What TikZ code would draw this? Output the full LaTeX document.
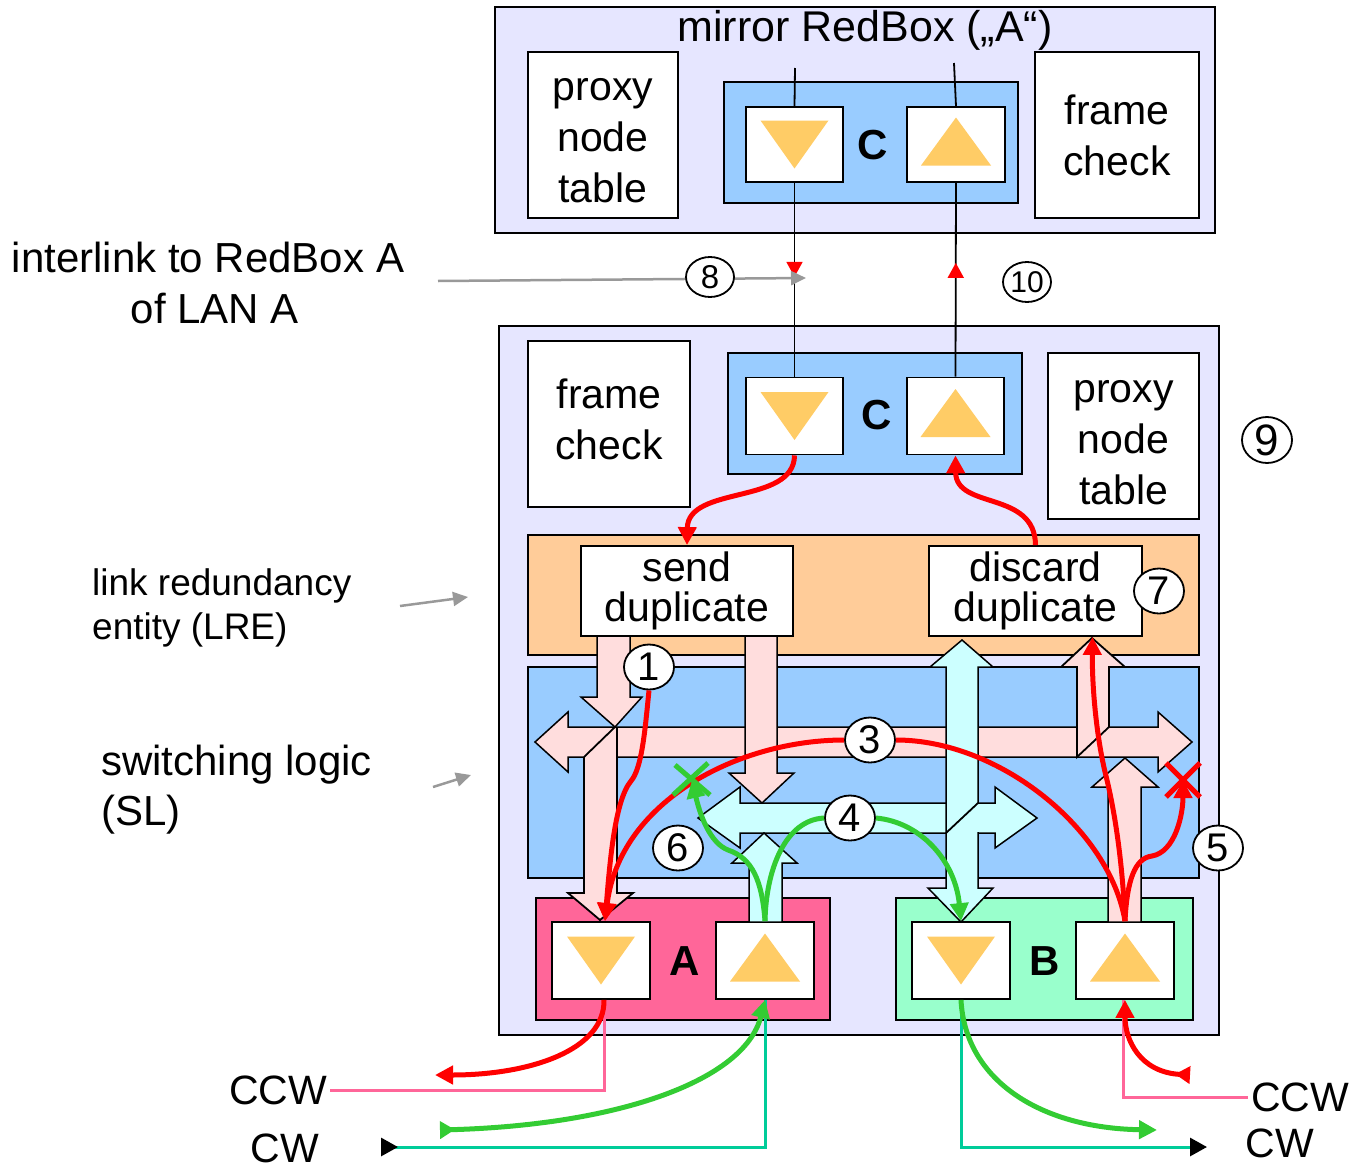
\documentclass[tikz,border=0pt]{standalone}
\usepackage{fontspec}
\setmainfont{Liberation Sans}
\usetikzlibrary{arrows.meta,shapes.geometric,decorations.markings}

\definecolor{lavbg}{HTML}{E6E6FF}
\definecolor{slblue}{HTML}{99CCFF}
\definecolor{lreor}{HTML}{FFCC99}
\definecolor{modA}{HTML}{FF6699}
\definecolor{modB}{HTML}{99FFCC}
\definecolor{trif}{HTML}{FFCC66}
\definecolor{paleP}{HTML}{FFDDDD}
\definecolor{paleC}{HTML}{CCFFFF}
\definecolor{grn}{HTML}{33CC33}
\definecolor{cwteal}{HTML}{00CC99}
\definecolor{ccwpink}{HTML}{FF6699}
\definecolor{gry}{HTML}{999999}

\tikzset{
  bx/.style={draw,line width=1.8pt,inner sep=0pt,align=center},
  wbox/.style={bx,fill=white},
  port/.style={wbox,minimum width=98,minimum height=77},
  bold/.style={font=\fontsize{42}{42}\selectfont\bfseries},
  num/.style={draw,ellipse,line width=1.8pt,fill=white,inner sep=0pt,
    minimum width=50,minimum height=45,font=\fontsize{40}{40}\selectfont},
  pale/.style={draw,line width=1.5pt,fill=#1},
  wire/.style={line width=1.8pt},
  redl/.style={draw=red,line width=5pt},
  grnl/.style={draw=grn,line width=5pt},
  gline/.style={draw=gry,line width=2.5pt,-{Triangle[length=15pt,width=14pt]}},
  ccwl/.style={draw=ccwpink,line width=3pt},
  cwl/.style={draw=cwteal,line width=3pt},
  >={Triangle[length=18pt,width=18pt]},
  rtail/.tip={Triangle[reversed,length=15pt,width=17pt]},
  btip/.tip={Triangle[color=black,length=17pt,width=18pt]},
  btail/.tip={Triangle[reversed,color=black,length=17pt,width=18pt]}
}

\newcommand{\dtri}[1]{\fill[trif] ([shift={(-34,-24)}]#1.center) -- ([shift={(34,-24)}]#1.center) -- ([shift={(0,24)}]#1.center) -- cycle;}
\newcommand{\utri}[1]{\fill[trif] ([shift={(0,-27)}]#1.center) -- ([shift={(35,21)}]#1.center) -- ([shift={(-35,21)}]#1.center) -- cycle;}

\begin{document}
\begin{tikzpicture}[x=1pt,y=-1pt,font=\fontsize{41}{51}\selectfont]
  \useasboundingbox (0,0) rectangle (1353,1170);

  % mirror RedBox
  \node[bx,fill=lavbg,minimum width=720,minimum height=226] (mirror) at (855,120) {};
  \node[font=\fontsize{43}{51}\selectfont] (mtitle) at (865,30) {mirror RedBox („A“)};
  \node[wbox,minimum width=150,minimum height=166,
    label={[align=center,yshift=-6pt]center:{proxy\\node\\table}}] (mproxy) at (603,135) {};
  \node[bx,fill=slblue,minimum width=294,minimum height=121] (mc) at (871,142.5) {};
  \node[port,minimum width=97,minimum height=75] (mdn) at (794.5,144.5) {};
  \node[port,minimum height=75] (mup) at (956,144.5) {};
  \node[bold] at (873,145) {C};
  \node[wbox,minimum width=164,minimum height=166] (mframe) at (1117,135) {frame\\check};
  \dtri{mdn} \utri{mup}

  % RedBox
  \node[bx,fill=lavbg,minimum width=720,minimum height=709] (redbox) at (859,680.5) {};
  \node[wbox,minimum width=162,minimum height=166,
    label={[align=center,yshift=5pt]center:{frame\\check}}] (frame) at (609,424) {};
  \node[bx,fill=slblue,minimum width=294,minimum height=121] (cc) at (875,413.5) {};
  \node[port,minimum width=97] (cdn) at (794.5,416) {};
  \node[port,minimum width=97] (cup) at (955.5,416) {};
  \node[bold] at (877,415) {C};
  \dtri{cdn} \utri{cup}
  \node[wbox,minimum width=151,minimum height=166,
    label={[align=center,yshift=-7pt]center:{proxy\\node\\table}}] (proxy) at (1123.5,436) {};
  \node[bx,fill=lreor,minimum width=671,minimum height=120] (lre) at (863.5,595) {};
  \node[wbox,minimum width=212,minimum height=90,font=\fontsize{41}{40}\selectfont] (send) at (687,591) {send\\duplicate};
  \node[wbox,minimum width=213,minimum height=90,font=\fontsize{41}{40}\selectfont] (discard) at (1035.5,591) {discard\\duplicate};
  \node[bx,fill=slblue,minimum width=671,minimum height=211] (sl) at (863.5,772.5) {};

  \node[bx,fill=modA,minimum width=294,minimum height=122] (porta) at (683,959) {};
  \node[bx,fill=modB,minimum width=297,minimum height=122] (portb) at (1044.5,959) {};
  \node[port] (adn) at (601,960.5) {};
  \node[port] (aup) at (765,960.5) {};
  \node[port] (bdn) at (961,960.5) {};
  \node[port] (bup) at (1125,960.5) {};
  \node[bold] at (685,961) {A};
  \node[bold] at (1045,961) {B};
  \dtri{adn} \utri{aup} \dtri{bdn} \utri{bup}

  % switching paths
  \draw[pale=paleP] (568,727) -- (1158,727) -- (1158,712) -- (1192,742) -- (1158,772) -- (1158,757)
    -- (568,757) -- (568,772) -- (535,742) -- (568,712) -- cycle;
  \draw[pale=paleP] (597,636) -- (597,697) -- (581,697) -- (615,727) -- (642,697) -- (630,697) -- (630,636) -- cycle;
  \fill[paleP] (584,750) -- (584,893) -- (568,893) -- (600,920) -- (633,893) -- (617,893) -- (617,750) -- cycle;
  \draw[wire] (584,757) -- (584,893) -- (568,893) -- (600,920) -- (633,893) -- (617,893) -- (617,727);
  \draw[wire] (584,757) -- (615,727);
  \fill[paleP] (1077,667) rectangle (1109,735) (1061,667) -- (1092,638) -- (1125,667) -- cycle;
  \draw[wire] (1109,727) -- (1109,667) -- (1125,667) -- (1092,638) -- (1061,667) -- (1077,667) -- (1077,757) -- (1109,727);
  \draw[pale=paleP] (1108,922) -- (1108,787) -- (1092,787) -- (1125,758) -- (1158,787) -- (1141,787) -- (1141,922) -- cycle;
  \draw[pale=paleC] (740,803) -- (995,803) -- (995,787) -- (1037,818) -- (995,848) -- (995,833)
    -- (740,833) -- (740,848) -- (698,818) -- (740,787) -- cycle;
  \draw[pale=paleP] (745,636) -- (745,773) -- (729,773) -- (762,803) -- (794,773) -- (777,773) -- (777,636) -- cycle;
  \draw[pale=paleC] (749,922) -- (749,863) -- (732,863) -- (764,833) -- (797,863) -- (782,863) -- (782,922) -- cycle;
  \draw[pale=paleC] (946,667) -- (930,667) -- (962,640) -- (993,667) -- (978,667) -- (978,888) -- (993,888)
    -- (961,922) -- (928,888) -- (946,888) -- cycle;
  \fill[paleC] (977,804) rectangle (979.5,832);
  \draw[wire] (946,833) -- (978,803);

  % interlink
  \coordinate (mtl) at (795,68);
  \coordinate (mtr) at (954,63);
  \draw[wire] (mtl) -- (mdn.north);
  \draw[wire] (mtr) -- (mup.north);
  \draw[wire,postaction={decorate},decoration={markings,mark=at position 0.485 with {\arrow[red]{Triangle[length=15pt,width=16pt]}}}] (mdn.south) -- (cdn.north);
  \draw[wire,postaction={decorate},decoration={markings,mark=at position 0.587 with {\arrow[red]{Triangle[length=15pt,width=16pt]}}}] (cup.north) -- (mup.south);
  \node[align=center,font=\fontsize{42}{51}\selectfont] (ilabel) at (208,283) {interlink to RedBox A\\\hspace*{14pt}of LAN A};
  \coordinate (ilka) at (438,281);
  \coordinate (ilkb) at (806,278);
  \draw[gline] (ilka) -- (ilkb);

  \node[anchor=west,align=left,inner sep=0pt,font=\fontsize{37}{44}\selectfont] (lrelabel) at (92,608) {link redundancy\\entity (LRE)};
  \node[anchor=west,align=left,inner sep=0pt,font=\fontsize{42}{50}\selectfont] (sllabel) at (101,790) {switching logic\\(SL)};
  \coordinate (lrea) at (400,606);
  \coordinate (lreb) at (468,597);
  \coordinate (sla) at (433,787);
  \coordinate (slb) at (471,775);
  \draw[gline] (lrea) -- (lreb);
  \draw[gline] (sla) -- (slb);

  % step numbers
  \node[num] (n1) at (649,667) {1};
  \node[num] (n3) at (870,740) {3};
  \node[num] (n4) at (850,818) {4};
  \node[num] (n5) at (1218,848) {5};
  \node[num] (n6) at (678,848) {6};
  \node[num] (n7) at (1159,591) {7};
  \node[num,minimum width=48,minimum height=40,font=\fontsize{33}{33}\selectfont] (n8) at (710,277) {8};
  \node[num,minimum height=46,font=\fontsize{44}{44}\selectfont] (n9) at (1267,440) {9};
  \node[num,minimum width=48,minimum height=40,font=\fontsize{30}{30}\selectfont] (n10) at (1027,282) {10};

  % frame paths
  \draw[redl,->] (cdn.south) .. controls (794,505) and (688,485) .. (send.north);
  \draw[redl,->] (discard.north) .. controls (1035,490) and (956,510) .. (cup.south);
  \draw[redl,->] (n1.south) .. controls (645,730) and (642,768) .. (631,781) .. controls (615,800) and (610,860) .. ([xshift=4]adn.north);
  \draw[redl] (bup.north) .. controls (1110,830) and (1000,740) .. (n3.east);
  \draw[redl,->] (n3.west) .. controls (740,740) and (620,800) .. ([xshift=4]adn.north);
  \draw[redl,->] (bup.north) .. controls (1122,850) and (1112,800) .. (1106,776) .. controls (1097,740) and (1092,690) .. ([xshift=57]discard.south);
  \coordinate (x5) at (1183,780);
  \draw[redl,->] (bup.north) .. controls (1127,880) and (1135,858) .. (1152,856) .. controls (1175,852) and (1183,815) .. (x5);
  \draw[red,line width=5pt] ([shift={(-17,-17)}]x5) -- ([shift={(17,17)}]x5) ([shift={(17,-17)}]x5) -- ([shift={(-17,17)}]x5);

  \draw[grnl] (aup.north) .. controls (766,870) and (785,820) .. (n4.west);
  \draw[grnl,->] (n4.east) .. controls (920,822) and (955,860) .. (bdn.north);
  \coordinate (x6) at (692,780);
  \draw[grnl,->] (aup.north) .. controls (762,880) and (752,858) .. (728,850) .. controls (710,843) and (700,815) .. (x6);
  \draw[grn,line width=5pt] ([shift={(-17,-15)}]x6) -- ([shift={(18,15)}]x6) ([shift={(16,-17)}]x6) -- ([shift={(-19,15)}]x6);

  % ring ports
  \node (ccwa) at (278,1090) {CCW};
  \node[inner sep=2pt] (cwa) at (285,1148) {CW};
  \node (ccwb) at (1300,1097) {CCW};
  \node (cwb) at (1280,1143) {CW};
  \draw[ccwl] (ccwa.east) -| ([xshift=3]adn.south);
  \draw[ccwl] (ccwb.west) -| ([xshift=-2]bup.south);
  \coordinate (cwin) at (381,1147);
  \coordinate (cwout) at (1207,1147);
  \draw[cwl,btail-] (cwin) -| (aup.south);
  \draw[cwl,-btip] (bdn.south) |- (cwout);

  \coordinate (r1) at (435,1075);
  \coordinate (r2) at (1190,1075);
  \coordinate (g1) at (440,1130);
  \coordinate (g2) at (1157,1130);
  \draw[redl,->] ([xshift=3]adn.south) .. controls (605,1050) and (530,1075) .. (r1);
  \draw[redl,rtail->] (r2) .. controls (1140,1072) and (1125,1040) .. (bup.south);
  \draw[grnl,rtail->] (g1) .. controls (620,1125) and (745,1080) .. (aup.south);
  \draw[grnl,->] (bdn.south) .. controls (965,1080) and (1040,1128) .. (g2);
\end{tikzpicture}
\end{document}
